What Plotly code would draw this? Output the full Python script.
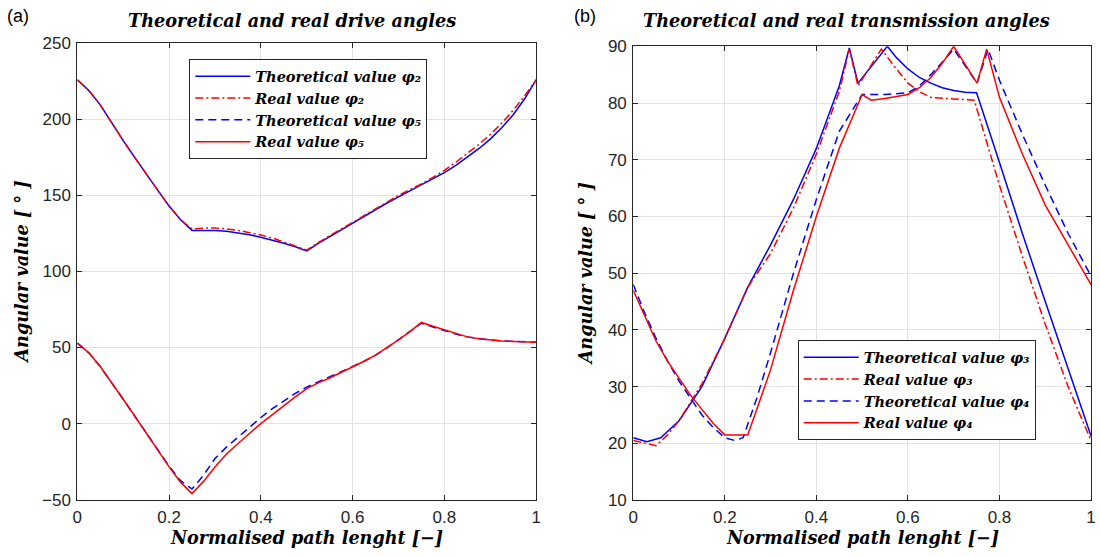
import plotly.graph_objects as go

# ---------------- data: drive angles (panel a) ----------------
s_drive = [0, 0.025, 0.05, 0.075, 0.1, 0.125, 0.15, 0.175, 0.2, 0.225,
           0.25, 0.275, 0.3, 0.325, 0.35, 0.375, 0.4, 0.425, 0.45, 0.475,
           0.5, 0.525, 0.55, 0.575, 0.6, 0.625, 0.65, 0.675, 0.7, 0.725,
           0.75, 0.775, 0.8, 0.825, 0.85, 0.875, 0.9, 0.925, 0.95, 0.975, 1.0]
phi2_theo = [226, 219, 209.5, 197.5, 186, 175, 164, 153.5, 143, 134,
             127, 127, 127, 126.5, 125.5, 124.2, 122.5, 120.7, 118.5, 116.2,
             113.5, 118.5, 123, 127.5, 132, 136.5, 141, 145, 149, 153,
             157, 160.8, 165, 169.7, 175, 180.7, 187, 194.5, 203, 213.5, 226]
phi2_real = [226, 219, 209.5, 197.5, 186, 175, 164, 153.5, 143, 134,
             128, 128.5, 128.5, 128, 127, 125.7, 124, 122, 119.5, 117,
             114, 119, 123.5, 128, 132.5, 137, 141.5, 145.8, 150, 153.8,
             157.5, 161.8, 166.5, 171.8, 177.5, 183.5, 190, 197.5, 206, 215.5, 226]
phi5_theo = [53, 46.5, 37.5, 27, 16, 5, -6, -17, -28, -37.5,
             -43, -34, -23, -15.5, -9, -2.5, 4, 9.8, 15, 19.8,
             24, 27.3, 30.5, 34, 37.5, 41, 45, 49.8, 55, 60.5,
             66, 63.5, 61, 58.8, 57, 55.8, 55, 54.3, 54, 53.7, 53.5]
phi5_real = [53, 46.5, 37.5, 27, 16, 5, -6, -17, -28.5, -38.5,
             -46, -38, -28.5, -20, -13, -6.5, 0, 6, 12, 17.5,
             23, 26.8, 30, 33.5, 37, 41, 45, 49.8, 55, 60.5,
             66.5, 64, 61.5, 59, 57, 55.8, 55, 54.3, 54, 53.7, 53.5]

# ---------------- data: transmission angles (panel b) ----------------
s_phi3_theo = [0, 0.03, 0.06, 0.1, 0.15, 0.2, 0.25, 0.3, 0.35, 0.4, 0.45, 0.472, 0.491,
               0.52, 0.555, 0.575, 0.6, 0.625, 0.65, 0.675, 0.7, 0.725, 0.75,
               0.8, 0.85, 0.9, 0.95, 1.0]
phi3_theo = [21, 20.3, 21, 24, 30, 38.5, 47.5, 55, 63, 72, 83, 89.7, 83.5,
             86.5, 90, 88, 86, 84.5, 83.5, 82.7, 82.2, 81.9, 81.8,
             69.5, 57, 45, 33, 21.3]
s_phi3_real = [0, 0.025, 0.05, 0.075, 0.1, 0.15, 0.2, 0.25, 0.3, 0.35, 0.4, 0.45, 0.472, 0.491,
               0.515, 0.542, 0.57, 0.6, 0.625, 0.65, 0.7, 0.745,
               0.8, 0.85, 0.9, 0.95, 1.0]
phi3_real = [20.5, 20, 19.6, 21.5, 24, 30.5, 38.5, 47.5, 53.5, 61.5, 71, 82, 89.5, 83,
             86, 89.5, 86.5, 83.5, 82, 81, 80.7, 80.5,
             65.5, 53, 41, 30, 20.5]
s_phi4_theo = [0, 0.025, 0.05, 0.075, 0.1, 0.125, 0.15, 0.175, 0.2, 0.222, 0.24, 0.27,
               0.3, 0.35, 0.4, 0.45, 0.5, 0.55, 0.6, 0.625, 0.65, 0.675, 0.7, 0.751,
               0.775, 0.8, 0.85, 0.9, 0.95, 1.0]
phi4_theo = [48, 43, 38.5, 34.5, 31, 28, 25, 22.8, 21, 20.5, 21, 28,
             36, 50, 63, 75, 81.5, 81.5, 81.8, 83, 85, 87.2, 89.5, 83.5,
             89.5, 84, 74.5, 65.5, 57, 49.5]
s_phi4_real = [0, 0.025, 0.05, 0.075, 0.1, 0.125, 0.15, 0.175, 0.2, 0.25, 0.27,
               0.3, 0.35, 0.4, 0.45, 0.5, 0.52, 0.55, 0.6, 0.625, 0.65, 0.675, 0.7,
               0.751, 0.772, 0.8, 0.85, 0.9, 0.95, 1.0]
phi4_real = [47, 42.5, 38, 34.5, 31.5, 28.5, 26, 23.5, 21.5, 21.5, 26,
             33, 47, 60, 72, 81.5, 80.5, 80.8, 81.5, 82.7, 84.5, 87, 90,
             83.5, 89.5, 81, 71, 62, 55, 48]

BLUE = "#0000ff"
RED = "#ff0000"
DASHDOT = "8px,3px,2px,3px"
DASHED = "8px,5px"
SERIF = "DejaVu Serif"
SANS = "Liberation Sans, Arial, sans-serif"
AXC = "#262626"

fig = go.Figure()


def add(x, y, name, color, dash, xa, ya, legend):
    fig.add_trace(go.Scatter(
        x=x, y=y, name=name, mode="lines",
        line=dict(color=color, width=1.5, dash=dash),
        xaxis=xa, yaxis=ya, legend=legend,
    ))


add(s_drive, phi2_theo, "Theoretical value φ₂", BLUE, "solid", "x", "y", "legend")
add(s_drive, phi2_real, "Real value φ₂", RED, DASHDOT, "x", "y", "legend")
add(s_drive, phi5_theo, "Theoretical value φ₅", BLUE, DASHED, "x", "y", "legend")
add(s_drive, phi5_real, "Real value φ₅", RED, "solid", "x", "y", "legend")

add(s_phi3_theo, phi3_theo, "Theoretical value φ₃", BLUE, "solid", "x2", "y2", "legend2")
add(s_phi3_real, phi3_real, "Real value φ₃", RED, DASHDOT, "x2", "y2", "legend2")
add(s_phi4_theo, phi4_theo, "Theoretical value φ₄", BLUE, DASHED, "x2", "y2", "legend2")
add(s_phi4_real, phi4_real, "Real value φ₄", RED, "solid", "x2", "y2", "legend2")

W, H = 1100, 556
XTICKS = [0, 0.2, 0.4, 0.6, 0.8, 1]
XTEXT = ["0", "0.2", "0.4", "0.6", "0.8", "1"]


def px(x):
    """horizontal pixel -> paper fraction"""
    return x / W


def py(y):
    """vertical pixel (from top) -> paper fraction"""
    return 1 - y / H


def axis_style(**kw):
    d = dict(
        showline=True, linecolor=AXC, linewidth=1, mirror="ticks",
        ticks="inside", ticklen=5, tickcolor=AXC, tickwidth=1,
        showgrid=True, gridcolor="#e3e3e3", gridwidth=1, zeroline=False,
        tickfont=dict(family=SANS, size=17, color=AXC),
    )
    d.update(kw)
    return d


legend_font = dict(family=SERIF, size=14.5, color="black", style="italic", weight="bold")

fig.update_layout(
    width=W, height=H,
    margin=dict(l=0, r=0, t=0, b=0),
    paper_bgcolor="white", plot_bgcolor="white",
    xaxis=axis_style(domain=[px(73), px(536)], range=[0, 1],
                     tickvals=XTICKS, ticktext=XTEXT,
                     ticklabelstandoff=2, anchor="y"),
    yaxis=axis_style(domain=[py(508), py(35.5)], range=[-50, 250], dtick=50,
                     ticklabelstandoff=2, anchor="x"),
    xaxis2=axis_style(domain=[px(634), px(1096)], range=[0, 1],
                      tickvals=XTICKS, ticktext=XTEXT,
                      ticklabelstandoff=1, anchor="y2"),
    yaxis2=axis_style(domain=[py(508.5), py(38.6)], range=[10, 90], dtick=10,
                      ticklabelstandoff=2, anchor="x2"),
    legend=dict(
        x=px(186), y=py(52), xanchor="left", yanchor="top",
        bgcolor="white", bordercolor=AXC, borderwidth=1,
        font=legend_font, tracegroupgap=0, itemwidth=55,
    ),
    legend2=dict(
        x=px(800), y=py(343), xanchor="left", yanchor="top",
        bgcolor="white", bordercolor=AXC, borderwidth=1,
        font=legend_font, tracegroupgap=0, itemwidth=55,
    ),
    showlegend=True,
)

title_font = dict(family=SERIF, size=17.7, color="black", style="italic", weight="bold")
axis_title_font = dict(family=SERIF, size=17.6, color="black", style="italic", weight="bold")
label_font = dict(family=SANS, size=18, color="black")

annotations = [
    dict(text="(a)", x=px(0), y=py(7), xanchor="left", yanchor="middle", font=label_font),
    dict(text="(b)", x=px(572), y=py(7), xanchor="left", yanchor="middle", font=label_font),
    dict(text="Theoretical and real drive angles", x=px(290), y=py(12),
         xanchor="center", yanchor="middle", font=title_font),
    dict(text="Theoretical and real transmission angles", x=px(849), y=py(12),
         xanchor="center", yanchor="middle", font=title_font),
    dict(text="Normalised path lenght [−]", x=px(304), y=py(547),
         xanchor="center", yanchor="middle", font=axis_title_font),
    dict(text="Normalised path lenght [−]", x=px(865), y=py(547),
         xanchor="center", yanchor="middle", font=axis_title_font),
    dict(text="Angular value [ ° ]", x=px(17), y=py(272), textangle=-90,
         xanchor="center", yanchor="middle", font=axis_title_font),
    dict(text="Angular value [ ° ]", x=px(586), y=py(274), textangle=-90,
         xanchor="center", yanchor="middle", font=axis_title_font),
]
for a in annotations:
    a.update(xref="paper", yref="paper", showarrow=False)
fig.update_layout(annotations=annotations)

fig.write_html("out.html")
